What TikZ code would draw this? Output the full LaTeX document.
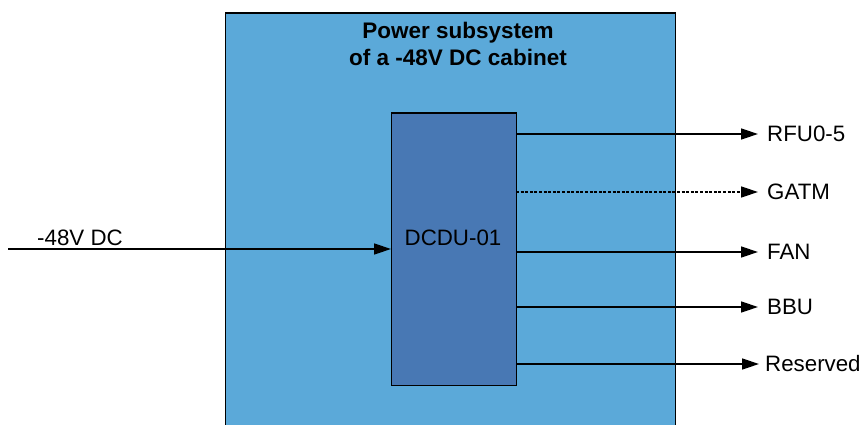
\documentclass[tikz,border=0pt]{standalone}
\usepackage{fontspec}
\setmainfont{Liberation Sans}
\usetikzlibrary{arrows.meta,positioning}
\definecolor{outerblue}{RGB}{91,169,217}
\definecolor{innerblue}{RGB}{72,120,180}
\tikzset{
  x=1pt,y=-1pt,
  lbl/.style={font=\fontsize{22.3}{26}\selectfont, inner sep=0pt},
  conn/.style={line width=1.4pt, -{Triangle[length=17pt,width=11pt]}},
  dotconn/.style={conn, dash pattern=on 3pt off 1.6pt},
}
\begin{document}
\begin{tikzpicture}
\useasboundingbox (0,0) rectangle (862,425);
\clip (0,0) rectangle (862,425);
% outer cabinet
\node[draw=black, line width=1.4pt, fill=outerblue, minimum width=450pt, minimum height=430pt, inner sep=0pt, anchor=north west] (cab) at (225,12.5) {};
\node[lbl, font=\fontsize{22.5}{27}\selectfont\bfseries, align=center, anchor=north] (title) at (458,22) {Power subsystem\\of a -48V DC cabinet};
% DCDU
\node[draw=black, line width=1.4pt, fill=innerblue, minimum width=125pt, minimum height=272pt, inner sep=0pt, anchor=north west] (dcdu) at (391,112.5) {};
\node[lbl] (dcdulbl) at (453,238) {DCDU-01};
% input
\coordinate (in) at (8,249);
\node[lbl, anchor=base] (inlbl) at (80,245) {-48V DC};
\draw[conn] (in) -- (in -| dcdu.west);
% outputs
\coordinate (o1) at (516,134);
\coordinate (o2) at (516,192);
\coordinate (o3) at (516,252);
\coordinate (o4) at (516,307);
\coordinate (o5) at (516,364);
\node[lbl, anchor=west] (l1) at (767,134) {RFU0-5};
\node[lbl, anchor=west] (l2) at (767,192) {GATM};
\node[lbl, anchor=west] (l3) at (767,252) {FAN};
\node[lbl, anchor=west] (l4) at (767,307) {BBU};
\node[lbl, anchor=west] (l5) at (765,364) {Reserved};
\draw[conn] (o1) -- ([xshift=-9pt]l1.west);
\draw[dotconn] (o2) -- ([xshift=-9pt]l2.west);
\draw[conn] (o3) -- ([xshift=-9pt]l3.west);
\draw[conn] (o4) -- ([xshift=-9pt]l4.west);
\draw[conn] (o5) -- ([xshift=-6pt]l5.west);
\end{tikzpicture}
\end{document}
